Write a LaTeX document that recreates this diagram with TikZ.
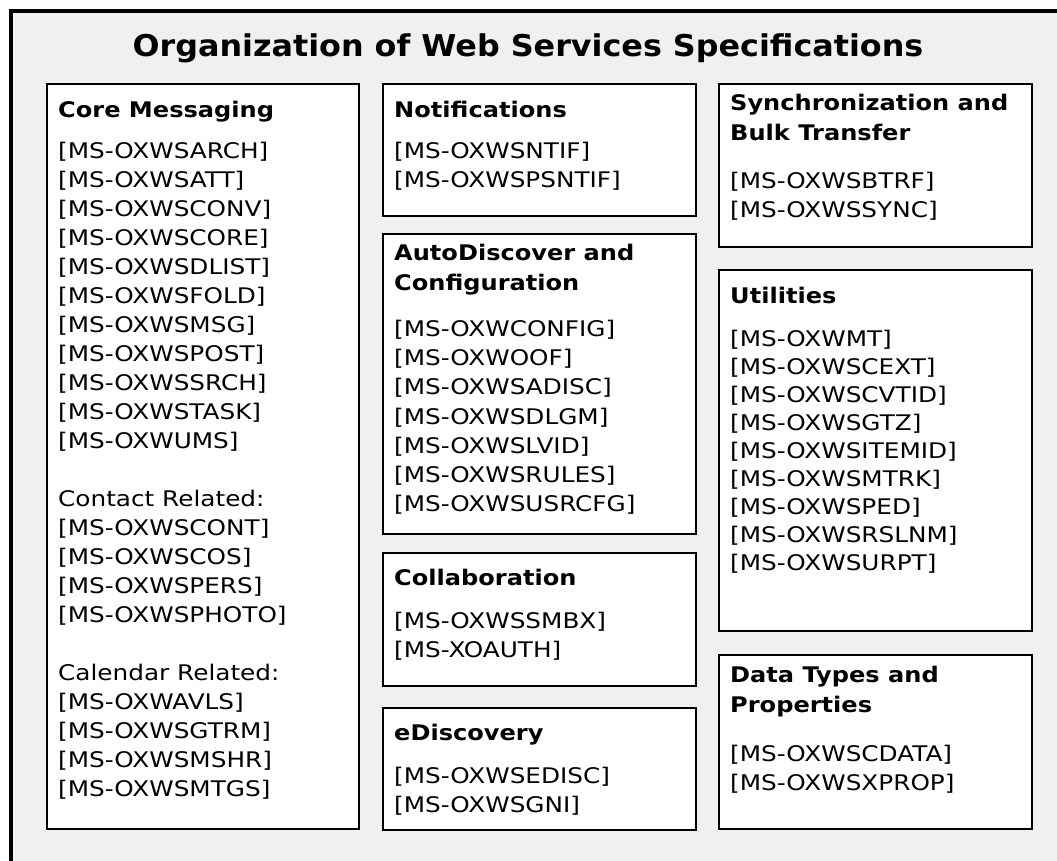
\documentclass[tikz,border=0pt]{standalone}
\usepackage{fontspec}
\setmainfont{DejaVu Sans}[FakeStretch=1.15]
\newfontfamily\headfont{DejaVu Sans}[FakeStretch=1.12]
\newfontfamily\titlefont{DejaVu Sans}[FakeStretch=1.06]
\usetikzlibrary{positioning}
\definecolor{framegray}{RGB}{240,240,240}
\newcommand{\specref}[1]{[#1]}

\tikzset{
	specbox/.style={draw=black, line width=1.6pt, fill=white, anchor=north west, inner sep=0pt},
	boxhead/.style={anchor=north west, align=left, inner sep=0pt, font=\headfont\fontsize{21.5}{30}\selectfont\bfseries, execute at begin node=\strut},
	speclist/.style={anchor=north west, align=left, inner sep=0pt, font=\fontsize{21.5}{#1}\selectfont, execute at begin node=\strut},
	speclist/.default=28.5
}

\begin{document}
\begin{tikzpicture}[x=1pt, y=-1pt]
		\useasboundingbox (0,0) rectangle (1057,861);
		\fill[white] (0,0) rectangle (1057,861);
		\draw[line width=3.5pt, fill=framegray] (11,11) rectangle (1080,890);
		\node[anchor=base, inner sep=0pt, font=\titlefont\fontsize{30}{36}\selectfont\bfseries] (title) at (528,57) {Organization of Web Services Specifications};

		% left column
		\node[specbox, minimum width=312, minimum height=745] (core) at (46,83) {};
		\node[boxhead] (corehead) at ([xshift=12pt,yshift=-13pt]core.north west) {Core Messaging};
		\node[speclist=29] (corelist) at ([yshift=-46pt]corehead.north west) {\specref{MS-OXWSARCH}\\ \specref{MS-OXWSATT}\\ \specref{MS-OXWSCONV}\\ \specref{MS-OXWSCORE}\\ \specref{MS-OXWSDLIST}\\ \specref{MS-OXWSFOLD}\\ \specref{MS-OXWSMSG}\\ \specref{MS-OXWSPOST}\\ \specref{MS-OXWSSRCH}\\ \specref{MS-OXWSTASK}\\ \specref{MS-OXWUMS}\\[29pt]
			Contact Related:\\ \specref{MS-OXWSCONT}\\ \specref{MS-OXWSCOS}\\ \specref{MS-OXWSPERS}\\ \specref{MS-OXWSPHOTO}\\[29pt]
			Calendar Related:\\ \specref{MS-OXWAVLS}\\ \specref{MS-OXWSGTRM}\\ \specref{MS-OXWSMSHR}\\ \specref{MS-OXWSMTGS}};

		% middle column
		\node[specbox, minimum width=313, minimum height=132] (notif) at (382,83) {};
		\node[boxhead] (notifhead) at ([xshift=12pt,yshift=-13pt]notif.north west) {Notifications};
		\node[speclist] (notiflist) at ([yshift=-46pt]notifhead.north west) {\specref{MS-OXWSNTIF}\\ \specref{MS-OXWSPSNTIF}};

		\node[specbox, minimum width=313, minimum height=300] (autod) at (382,233) {};
		\node[boxhead] (autodhead) at ([xshift=12pt,yshift=-11pt]autod.north west) {AutoDiscover and\\ Configuration};
		\node[speclist=29.2] (autodlist) at ([yshift=-76pt]autodhead.north west) {\specref{MS-OXWCONFIG}\\ \specref{MS-OXWOOF}\\ \specref{MS-OXWSADISC}\\ \specref{MS-OXWSDLGM}\\ \specref{MS-OXWSLVID}\\ \specref{MS-OXWSRULES}\\ \specref{MS-OXWSUSRCFG}};

		\node[specbox, minimum width=313, minimum height=133] (collab) at (382,552) {};
		\node[boxhead] (collabhead) at ([xshift=12pt,yshift=-12pt]collab.north west) {Collaboration};
		\node[speclist] (collablist) at ([yshift=-48pt]collabhead.north west) {\specref{MS-OXWSSMBX}\\ \specref{MS-XOAUTH}};

		\node[specbox, minimum width=313, minimum height=122] (edisc) at (382,707) {};
		\node[boxhead] (edischead) at ([xshift=12pt,yshift=-12pt]edisc.north west) {eDiscovery};
		\node[speclist] (edisclist) at ([yshift=-48pt]edischead.north west) {\specref{MS-OXWSEDISC}\\ \specref{MS-OXWSGNI}};

		% right column
		\node[specbox, minimum width=313, minimum height=163] (sync) at (718,83) {};
		\node[boxhead] (synchead) at ([xshift=12pt,yshift=-11pt]sync.north west) {Synchronization and\\ Bulk Transfer};
		\node[speclist] (synclist) at ([yshift=-78pt]synchead.north west) {\specref{MS-OXWSBTRF}\\ \specref{MS-OXWSSYNC}};

		\node[specbox, minimum width=313, minimum height=361] (util) at (718,269) {};
		\node[boxhead] (utilhead) at ([xshift=12pt,yshift=-13pt]util.north west) {Utilities};
		\node[speclist=28] (utillist) at ([yshift=-48pt]utilhead.north west) {\specref{MS-OXWMT}\\ \specref{MS-OXWSCEXT}\\ \specref{MS-OXWSCVTID}\\ \specref{MS-OXWSGTZ}\\ \specref{MS-OXWSITEMID}\\ \specref{MS-OXWSMTRK}\\ \specref{MS-OXWSPED}\\ \specref{MS-OXWSRSLNM}\\ \specref{MS-OXWSURPT}};

		\node[specbox, minimum width=313, minimum height=174] (dtype) at (718,654) {};
		\node[boxhead] (dtypehead) at ([xshift=12pt,yshift=-12pt]dtype.north west) {Data Types and\\ Properties};
		\node[speclist] (dtypelist) at ([yshift=-79pt]dtypehead.north west) {\specref{MS-OXWSCDATA}\\ \specref{MS-OXWSXPROP}};
	\end{tikzpicture}
\end{document}
